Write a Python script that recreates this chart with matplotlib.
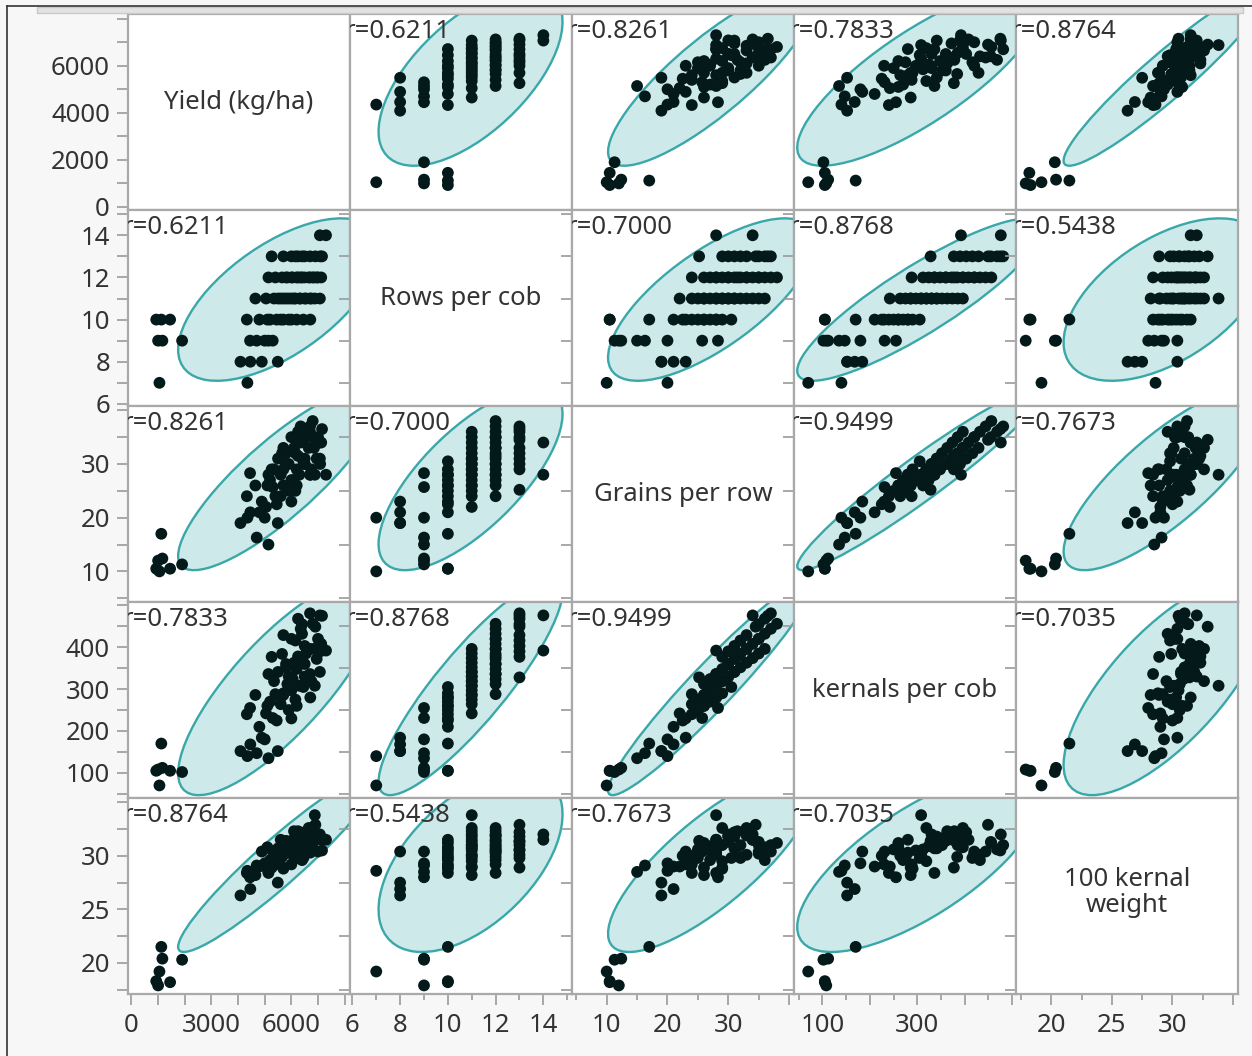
import numpy as np
import matplotlib
matplotlib.use("Agg")
import matplotlib.pyplot as plt
from matplotlib.patches import Ellipse, Rectangle
from matplotlib.lines import Line2D
from matplotlib.ticker import MultipleLocator, FuncFormatter

plt.rcParams["font.family"] = ["Noto Sans", "DejaVu Sans"]

# one row per plot; low-yield group first
yield_kg = [1050, 1120, 1450, 930, 1000, 1160, 1900,
            4350, 4090, 4460, 4890, 5490, 4700, 5140, 5000, 5300, 4450,
            4330, 4800, 5200, 5450, 5700, 5900, 6200, 6450, 6710,
            4650, 5050, 5350, 5600, 5800, 6000, 6150, 6350, 6500, 6700, 6880, 7070,
            5140, 5400, 5650, 5850, 6000, 6200, 6350, 6500, 6650, 6800, 6950, 7120,
            5260, 5700, 6000, 6250, 6500, 6700, 6900, 7080,
            7070, 7300,
            5100, 6000, 5900, 6300, 6550, 6100, 6050, 6400, 6700, 6850,
            5800, 6400, 6150, 5500, 7000, 5600, 6750, 6250, 7150, 5700]
rows_cob = [7, 10, 10, 10, 9, 9, 9,
            7, 8, 8, 8, 8, 9, 9, 9, 9, 9,
            10, 10, 10, 10, 10, 10, 10, 10, 10,
            11, 11, 11, 11, 11, 11, 11, 11, 11, 11, 11, 11,
            12, 12, 12, 12, 12, 12, 12, 12, 12, 12, 12, 12,
            13, 13, 13, 13, 13, 13, 13, 13,
            14, 14,
            10, 10, 11, 11, 11, 11, 12, 12, 12, 12,
            12, 13, 13, 11, 12, 10, 11, 12, 13, 11]
grains_row = [10, 17, 10.5, 10.5, 12, 12.4, 11.3,
              20, 19, 21, 23, 19, 16.3, 15, 20, 25.7, 28.3,
              24, 21, 27, 22.5, 29, 25, 26, 30.5, 28,
              26, 22, 29, 24, 32, 27, 25, 34, 30, 36, 28, 31,
              28, 24, 32, 26, 35, 29, 37, 30, 33, 38, 31, 34,
              29, 33, 25.2, 36, 31, 37, 34.5, 30,
              34, 28,
              26, 23, 30, 28, 35, 33, 27, 36, 28, 33,
              30, 35, 32, 31, 35, 28, 29, 31.5, 36.5, 26]
kernals_cob = [70, 170, 105, 105, 108, 112, 102,
               140, 152, 168, 184, 152, 147, 135, 180, 231, 255,
               240, 210, 270, 225, 290, 250, 260, 305, 280,
               286, 242, 319, 264, 352, 297, 275, 374, 330, 396, 308, 341,
               336, 288, 384, 312, 420, 348, 444, 360, 396, 456, 372, 408,
               377, 429, 328, 468, 403, 481, 449, 390,
               476, 392,
               260, 230, 330, 308, 385, 363, 324, 432, 336, 396,
               360, 455, 416, 341, 420, 280, 319, 378, 475, 286]
weight_100 = [19.2, 21.5, 18.2, 18.3, 17.9, 20.4, 20.3,
              28.6, 26.3, 26.9, 30.4, 27.5, 29.1, 28.5, 29.3, 30.4, 28.0,
              28.4, 29.0, 29.6, 30.0, 28.8, 30.6, 31.2, 29.8, 30.3,
              28.2, 29.0, 29.5, 30.0, 31.0, 30.5, 29.8, 31.5, 32.0, 30.8, 33.8, 31.8,
              28.4, 29.2, 29.9, 30.6, 30.2, 31.0, 30.4, 31.8, 32.6, 31.2, 32.0, 31.5,
              28.9, 30.1, 31.4, 30.6, 32.2, 31.0, 32.9, 31.8,
              32.0, 31.5,
              30.8, 29.2, 31.3, 30.1, 31.0, 32.3, 30.9, 29.6, 30.7, 31.9,
              31.4, 31.3, 29.8, 30.7, 30.4, 31.5, 32.6, 32.3, 30.5, 28.9]

names = ["Yield (kg/ha)", "Rows per cob", "Grains per row", "kernals per cob", "100 kernal\nweight"]
r_text = {(0, 1): "0.6211", (0, 2): "0.8261", (0, 3): "0.7833", (0, 4): "0.8764",
          (1, 2): "0.7000", (1, 3): "0.8768", (1, 4): "0.5438",
          (2, 3): "0.9499", (2, 4): "0.7673", (3, 4): "0.7035"}
x_ticklabels = [[0, 3000, 6000], [6, 8, 10, 12, 14], [10, 20, 30], [100, 300], [20, 25, 30]]
y_ticklabels = [[0, 2000, 4000, 6000], [6, 8, 10, 12, 14], [10, 20, 30], [100, 200, 300, 400], [20, 25, 30]]

data = [yield_kg, rows_cob, grains_row, kernals_cob, weight_100]
lims = [(-130, 8200), (5.9, 15.2), (4.3, 40.8), (40, 508), (17.1, 35.4)]
major_step = [1000, 2, 10, 100, 5]
minor_step = [None, 1, 5, 50, 2.5]

fill_c = "#cde9ea"
edge_c = "#3aa7a8"
dot_c = "#03191a"
txt_c = "#333333"
grid_c = "#a9a9a9"
FS = 18.5


def density_ellipse(ax, x, y, p=0.95):
    x = np.asarray(x, float)
    y = np.asarray(y, float)
    cov = np.cov(x, y)
    vals, vecs = np.linalg.eigh(cov)
    order = vals.argsort()[::-1]
    vals, vecs = vals[order], vecs[:, order]
    ang = np.degrees(np.arctan2(vecs[1, 0], vecs[0, 0]))
    k = np.sqrt(-2 * np.log(1 - p))
    e = Ellipse((x.mean(), y.mean()), 2 * k * np.sqrt(vals[0]), 2 * k * np.sqrt(vals[1]),
                angle=ang, facecolor=fill_c, edgecolor=edge_c, lw=1.7, zorder=1)
    ax.add_patch(e)


def label_fmt(keep):
    def f(v, pos):
        for k in keep:
            if abs(v - k) < 1e-6:
                return f"{k:g}"
        return ""
    return FuncFormatter(f)


fig = plt.figure(figsize=(12.52, 10.56), dpi=100, facecolor="#f7f7f7")
axes = fig.subplots(5, 5, gridspec_kw=dict(left=128 / 1252, right=1238 / 1252,
                                           top=1 - 14 / 1056, bottom=1 - 994 / 1056,
                                           wspace=0, hspace=0))

for i in range(5):
    for j in range(5):
        ax = axes[i, j]
        ax.set_facecolor("white")
        ax.set_xlim(lims[j])
        ax.set_ylim(lims[i])
        for s in ax.spines.values():
            s.set_color(grid_c)
            s.set_linewidth(1.6)

        if i == j:
            yy = 0.52 if "\n" in names[i] else 0.55
            ax.text(0.5, yy, names[i], transform=ax.transAxes, ha="center", va="center",
                    fontsize=FS, color=txt_c, linespacing=1.05)
        else:
            density_ellipse(ax, data[j], data[i])
            ax.scatter(data[j], data[i], s=72, color=dot_c, edgecolors="none", zorder=3)
            ax.text(-0.025, 0.975, "r=" + r_text[(min(i, j), max(i, j))], transform=ax.transAxes,
                    ha="left", va="top", fontsize=FS, color=txt_c, clip_on=True, zorder=4)

        # ticks
        ax.xaxis.set_major_locator(MultipleLocator(major_step[j]))
        ax.yaxis.set_major_locator(MultipleLocator(major_step[i]))
        if minor_step[j]:
            ax.xaxis.set_minor_locator(MultipleLocator(minor_step[j]))
        if minor_step[i]:
            ax.yaxis.set_minor_locator(MultipleLocator(minor_step[i]))
        ax.xaxis.set_major_formatter(label_fmt(x_ticklabels[j]))
        ax.yaxis.set_major_formatter(label_fmt(y_ticklabels[i]))
        ax.tick_params(which="both", direction="out", color="#9a9a9a", width=1.2,
                       labelcolor=txt_c, labelsize=FS)
        ax.tick_params(which="major", length=8)
        ax.tick_params(axis="x", which="major", pad=6)
        ax.tick_params(axis="y", which="major", pad=5)
        ax.tick_params(which="minor", length=4.5)
        ax.tick_params(axis="y", which="both", length=8)
        ax.tick_params(axis="x", bottom=(i == 4), labelbottom=(i == 4))
        ax.tick_params(axis="y", left=(j == 0), labelleft=(j == 0))

# window frame bits around the report
fig.add_artist(Line2D([7 / 1252, 7 / 1252], [0, 1 - 6 / 1056], transform=fig.transFigure,
                      color="#333333", lw=1.2))
fig.add_artist(Line2D([7 / 1252, 1], [1 - 6 / 1056, 1 - 6 / 1056], transform=fig.transFigure,
                      color="#333333", lw=1.2))
fig.add_artist(Rectangle((37 / 1252, 1 - 13 / 1056), (1243 - 37) / 1252, 6 / 1056,
                         transform=fig.transFigure, facecolor="#e2e2e2", edgecolor="#c9c9c9", lw=1))

fig.savefig("out.png", dpi=100, facecolor=fig.get_facecolor())
